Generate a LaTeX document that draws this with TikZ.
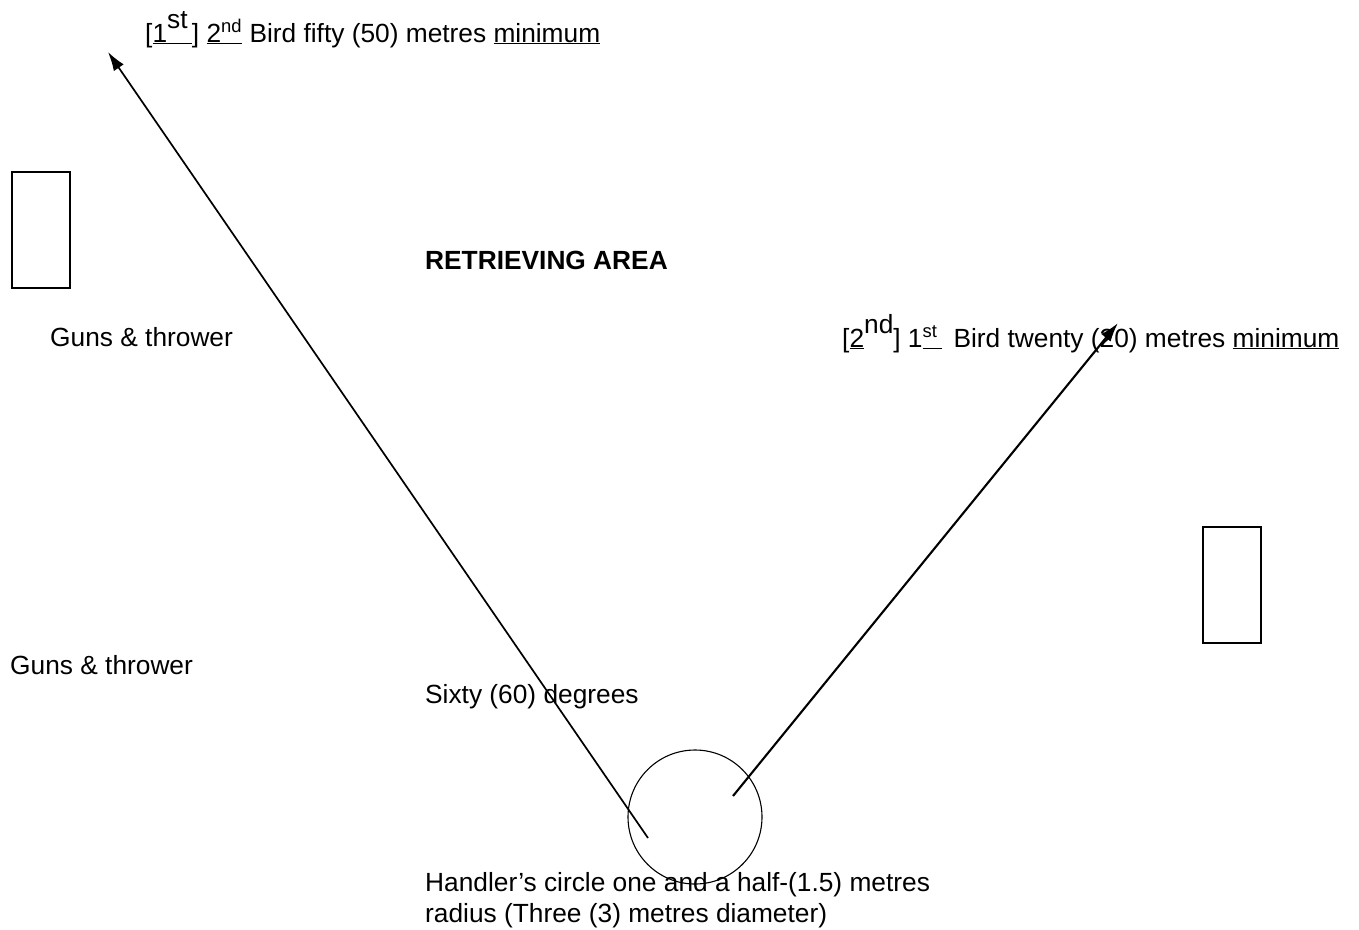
\documentclass[tikz,border=0pt]{standalone}
\usepackage{fontspec}
\setmainfont{Liberation Sans}
\usepackage{tikz}
\usetikzlibrary{arrows.meta}
\tikzset{>={Latex[length=19pt,width=12pt]}}
\tikzset{note/.style = {font=\fontsize{26.3}{31}\selectfont, anchor=base west, inner sep=0pt, align=left},
         gunbox/.style = {draw, line width=1.2pt, minimum width=58pt, minimum height=116pt, inner sep=0pt},
         ring/.style = {shape=circle, draw, line width=1.1pt, minimum size=134pt, inner sep=0pt}}
\newcommand{\upsup}[1]{\raisebox{.5em}{#1}}

\begin{document}
\begin{tikzpicture}[x=1pt,y=-1pt]
                \useasboundingbox (0,0) rectangle (1359,929);

                \node[gunbox] (gunsA) at (41,230) {};
                \node[gunbox] (gunsB) at (1232,585) {};
                \node[ring] (handler) at (695,817) {};

                \node[note] (far) at (145,42) {[\underline{1}\underline{\upsup{st}\,}] \underline{2\textsuperscript{nd}} Bird fifty (50) metres \underline{minimum}};
                \node[note] (near) at (842,347) {[\underline{2}\upsup{nd}] 1\underline{\textsuperscript{st}\,}\, Bird twenty (20) metres \underline{minimum}};
                \node[note, font=\fontsize{26.3}{31}\selectfont\bfseries] (area) at (425,269) {RETRIEVING AREA};
                \node[note] (gunsAtext) at (50,346) {Guns \& thrower};
                \node[note] (gunsBtext) at (10,674) {Guns \& thrower};
                \node[note] (angle) at (425,703) {Sixty (60) degrees};
                \node[note] (circletext) at (425,922) {Handler’s circle one and a half-(1.5) metres\\radius (Three (3) metres diameter)};

                \coordinate (farstart) at (648,838);
                \coordinate (fartip) at (108,52);
                \coordinate (nearstart) at (733,796);
                \coordinate (neartip) at (1118,323);

                \draw[->, line width=1.7pt] (farstart) -- (fartip);
                \draw[->, line width=2.1pt] (nearstart) -- (neartip);
            \end{tikzpicture}
\end{document}
